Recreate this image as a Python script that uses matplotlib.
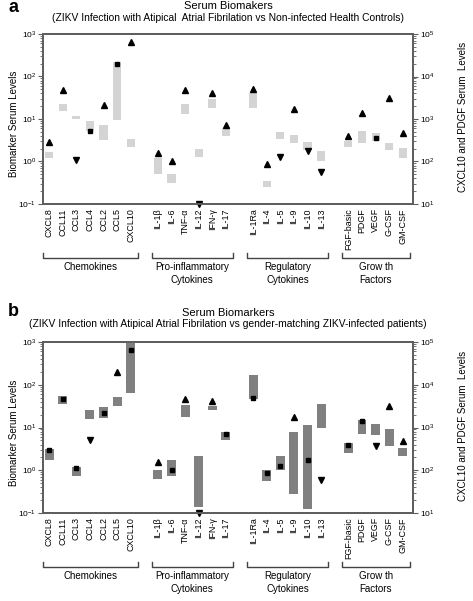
import matplotlib
matplotlib.use("Agg")
import matplotlib.pyplot as plt
from matplotlib.transforms import blended_transform_factory

plt.rcParams['font.family'] = ['Liberation Sans', 'DejaVu Sans']
plt.rcParams['mathtext.fontset'] = 'custom'
plt.rcParams['mathtext.rm'] = 'Liberation Sans'

# ---------------- data ----------------
categories = ['CXCL8', 'CCL11', 'CCL3', 'CCL4', 'CCL2', 'CCL5', 'CXCL10',
              'IL-1β', 'IL-6', 'TNF-α', 'IL-12', 'IFN-γ', 'IL-17',
              'IL-1Ra', 'IL-4', 'IL-5', 'IL-9', 'IL-10', 'IL-13',
              'FGF-basic', 'PDGF', 'VEGF', 'G-CSF', 'GM-CSF']
group_names = ['Chemokines', 'Pro-inflammatory\nCytokines',
               'Regulatory\nCytokines', 'Grow th\nFactors']
group_sizes = [7, 6, 6, 5]
right_axis_cats = ['CXCL10', 'PDGF']   # read on right axis (10^1 - 10^5)

# patient (ZIKV + atypical AF) values
patient = [2.9, 47, 1.1, 5.2, 21.5, 200, 66500,
           1.57, 1.0, 47, 0.1, 42, 7.2,
           50, 0.88, 1.26, 17.4, 1.72, 0.58,
           3.9, 1420, 3.67, 31, 4.8]

# panel a: non-infected healthy controls range
ctrl_low = [1.2, 15.5, 10, 5.1, 3.2, 9.6, 220,
            0.5, 0.32, 12.8, 1.31, 18.6, 3.9,
            18, 0.25, 3.35, 2.7, 1.88, 1.0,
            2.14, 270, 3.06, 1.88, 1.2]
ctrl_high = [1.7, 22, 11.9, 9.05, 7.2, 225, 340,
             1.2, 0.51, 22.7, 1.95, 30, 6.0,
             41, 0.35, 4.9, 4.2, 2.8, 1.72,
             3.06, 510, 4.8, 2.7, 2.06]

# panel b: gender-matching ZIKV-infected patients range
zikv_low = [1.7, 35, 0.72, 15.4, 17, 32, 6500,
            0.63, 0.72, 17.5, 0.14, 25, 5.0,
            47, 0.56, 1.03, 0.28, 0.126, 9.7,
            2.5, 710, 6.5, 3.7, 2.1]
zikv_high = [3.2, 54, 1.19, 26, 30, 51, 100000,
             1.0, 1.7, 33, 2.1, 31, 7.8,
             165, 1.0, 2.1, 7.8, 11.2, 35,
             4.4, 1520, 11.8, 9.0, 3.4]

panel_titles = ['Serum Biomakers', 'Serum Biomarkers']
panel_subtitles = [
    '(ZIKV Infection with Atipical  Atrial Fibrilation vs Non-infected Health Controls)',
    '(ZIKV Infection with Atipical Atrial Fibrilation vs gender-matching ZIKV-infected patients)']
panel_letters = ['a', 'b']
left_label = 'Biomarker Serum Levels'
right_label = 'CXCL10 and PDGF Serum  Levels'

# ---------------- layout ----------------
W, H = 473, 601
fig = plt.figure(figsize=(W / 100, H / 100), dpi=100)

positions = []
start = 0
group_ranges = []
for n in group_sizes:
    positions.extend(range(start, start + n))
    group_ranges.append((start, start + n - 1))
    start += n + 1

spine_color = '#5e5e5e'


def fy(y):
    return 1 - y / H


def draw_panel(top_px, bot_px, lows, highs, box_color, box_w, idx):
    ax = fig.add_axes([43 / W, fy(bot_px), 370 / W, (bot_px - top_px) / H])
    ax.set_yscale('log')
    ax.set_ylim(0.1, 1000)
    ax2 = ax.twinx()
    ax2.set_yscale('log')
    ax2.set_ylim(10, 1e5)
    ax.set_xlim(-0.45, 26.75)

    for i, cat in enumerate(categories):
        tgt = ax2 if cat in right_axis_cats else ax
        lo, hi, p = lows[i], highs[i], patient[i]
        tgt.bar(positions[i], hi - lo, bottom=lo, width=box_w,
                color=box_color, linewidth=0, zorder=2)
        if p > hi:
            mk, ms = '^', 4.4
        elif p < lo:
            mk, ms = 'v', 4.4
        else:
            mk, ms = 's', 3.3
        tgt.plot([positions[i]], [p], marker=mk, ms=ms, color='black',
                 linestyle='none', clip_on=False, zorder=3)

    for a in (ax, ax2):
        for s in a.spines.values():
            s.set_color(spine_color)
            s.set_linewidth(1.3)
    ax.set_xticks(positions)
    ax.set_xticklabels(categories, rotation=90, fontsize=6.4)
    ax.tick_params(axis='x', length=0, pad=3)
    ax.tick_params(axis='y', which='major', labelsize=6, length=3.5,
                   width=0.8, color=spine_color, pad=1.5)
    ax.tick_params(axis='y', which='minor', length=2, width=0.6, color=spine_color)
    ax2.tick_params(axis='y', which='major', labelsize=6, length=3.5,
                    width=0.8, color=spine_color, pad=1.5)
    ax2.tick_params(axis='y', which='minor', length=2, width=0.6, color=spine_color)

    # group brackets
    trans = blended_transform_factory(ax.transData, fig.transFigure)
    line_y = bot_px + 54
    for (s, e), name in zip(group_ranges, group_names):
        x0, x1 = s - 0.45, e + 0.5
        ax.plot([x0, x0, x1, x1], [fy(line_y - 5), fy(line_y), fy(line_y), fy(line_y - 5)],
                transform=trans, color='#444444', lw=1.0, clip_on=False)
        ax.text((x0 + x1) / 2, fy(line_y + 4), name, transform=trans,
                ha='center', va='top', fontsize=7, linespacing=1.35)

    # axis labels
    mid = (top_px + bot_px) / 2
    fig.text(14 / W, fy(mid + 5), left_label, rotation=90, ha='center',
             va='center', fontsize=7)
    fig.text(463 / W, fy(mid - 2), right_label, rotation=90, ha='center',
             va='center', fontsize=7)
    return ax


title_y = [(6, 18), (313, 324)]
panels = [(34, 204, ctrl_low, ctrl_high, '#d4d4d4', 0.6),
          (342, 513, zikv_low, zikv_high, '#808080', 0.66)]
for k, (t, b, lo, hi, col, bw) in enumerate(panels):
    draw_panel(t, b, lo, hi, col, bw, k)
    fig.text(228 / W, fy(title_y[k][0]), panel_titles[k], ha='center',
             va='center', fontsize=8)
    fig.text(228 / W, fy(title_y[k][1]), panel_subtitles[k], ha='center',
             va='center', fontsize=7.4)
    fig.text(13 / W, fy(title_y[k][0] + 2 if k == 0 else title_y[k][0] - 1),
             panel_letters[k], ha='center', va='center', fontsize=13,
             fontweight='bold')

fig.savefig('out.png', dpi=100)
